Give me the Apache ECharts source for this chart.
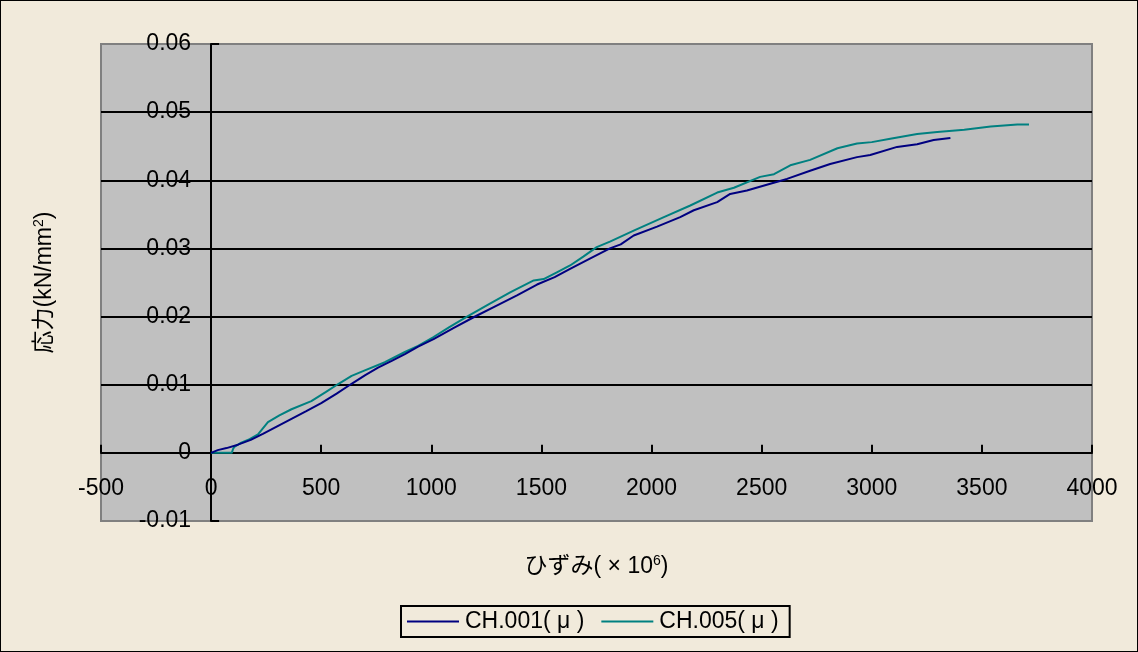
<!DOCTYPE html>
<html>
<head>
<meta charset="utf-8">
<script src="https://cdn.jsdelivr.net/npm/echarts@6/dist/echarts.min.js"></script>
<style>
  html, body { margin: 0; padding: 0; background: #F1EADB; }
  #chart { width: 1138px; height: 652px; box-sizing: border-box; border: 1px solid #000; }
</style>
</head>
<body>
<div id="chart"></div>
<script>
// Strain (×10^6) and stress (kN/mm²) readings for each channel
const ch001Strain = [0, 30, 70, 122, 180, 235, 300, 365, 430, 500, 570, 636, 700, 758, 820, 880, 940, 1010, 1100, 1192, 1290, 1389, 1480, 1560, 1630, 1720, 1811, 1860, 1919, 2025, 2130, 2192, 2298, 2357, 2433, 2539, 2615, 2720, 2811, 2933, 2993, 3115, 3206, 3281, 3357];
const ch001Stress = [0, 0.0004, 0.0007, 0.0012, 0.0019, 0.0028, 0.0039, 0.005, 0.0061, 0.0073, 0.0087, 0.0101, 0.0114, 0.0125, 0.0135, 0.0145, 0.0156, 0.0167, 0.0183, 0.0199, 0.0215, 0.0231, 0.0247, 0.0258, 0.027, 0.0285, 0.03, 0.0306, 0.0319, 0.0332, 0.0346, 0.0356, 0.0368, 0.038, 0.0385, 0.0395, 0.0402, 0.0414, 0.0424, 0.0434, 0.0437, 0.0449, 0.0453, 0.0459, 0.0462];

const ch005Strain = [0, 40, 94, 100, 107, 137, 175, 213, 258, 310, 365, 455, 520, 577, 638, 698, 789, 880, 940, 1010, 1080, 1162, 1266, 1360, 1465, 1510, 1570, 1630, 1690, 1751, 1811, 1919, 2056, 2176, 2298, 2374, 2493, 2556, 2630, 2720, 2844, 2933, 3000, 3084, 3206, 3297, 3420, 3540, 3661, 3714];
const ch005Stress = [0, 0, 0, 0.0006, 0.0009, 0.0015, 0.002, 0.0027, 0.0045, 0.0055, 0.0064, 0.0076, 0.0089, 0.0101, 0.0113, 0.0121, 0.0133, 0.0148, 0.0157, 0.017, 0.0184, 0.02, 0.0219, 0.0236, 0.0253, 0.0255, 0.0265, 0.0275, 0.0288, 0.0302, 0.031, 0.0326, 0.0346, 0.0363, 0.0382, 0.0389, 0.0405, 0.0409, 0.0422, 0.043, 0.0447, 0.0454, 0.0456, 0.0461, 0.0468, 0.0471, 0.0474, 0.0479, 0.0482, 0.0482];

const seriesNames = ['CH.001( μ )', 'CH.005( μ )'];
const xTicks = { min: -500, max: 4000, step: 500 };
const yTicks = { min: -0.01, max: 0.06, step: 0.01 };

const pairs = (xs, ys) => xs.map((x, i) => [x, ys[i]]);

const FONT = 'Liberation Sans, Arial, "Noto Sans CJK JP", sans-serif';

// Plot rectangle (px) – both axes cross at the origin inside it
const GRID = { left: 100, top: 43, width: 991, height: 477 };
const xZeroOffset = -GRID.width * (0 - xTicks.min) / (xTicks.max - xTicks.min);
const yZeroOffset = -GRID.height * (0 - yTicks.min) / (yTicks.max - yTicks.min);

const supStyle = { sup: { fontSize: 14, verticalAlign: 'top', padding: [0, 0, 11, 0] } };

const chart = echarts.init(document.getElementById('chart'), null, { renderer: 'canvas' });
chart.setOption({
  backgroundColor: '#F1EADB',
  animation: false,
  textStyle: { fontFamily: FONT },
  grid: {
    left: GRID.left, top: GRID.top, width: GRID.width, height: GRID.height,
    containLabel: false,
    outerBoundsMode: 'none',
    show: true,
    backgroundColor: '#C0C0C0',
    borderColor: '#808080',
    borderWidth: 2
  },
  legend: {
    data: seriesNames,
    left: 400,
    top: 605,
    padding: [4, 11, 4, 6],
    itemGap: 17,
    itemWidth: 52,
    itemHeight: 2,
    icon: 'rect',
    borderColor: '#000',
    borderWidth: 2,
    textStyle: { fontSize: 23, color: '#000', fontFamily: FONT, padding: [0, 0, 0, 1] }
  },
  xAxis: {
    type: 'value',
    min: xTicks.min,
    max: xTicks.max,
    interval: xTicks.step,
    offset: yZeroOffset,
    name: 'ひずみ( × 10{sup|6})',
    nameLocation: 'middle',
    nameGap: 101,
    nameTextStyle: { fontSize: 23, color: '#000', fontFamily: FONT, rich: supStyle },
    axisLine: { show: true, onZero: false, lineStyle: { color: '#000', width: 2 } },
    axisTick: { show: true, inside: true, length: 8, lineStyle: { color: '#000', width: 2 } },
    axisLabel: { fontSize: 23, color: '#000', margin: 24, fontFamily: FONT, formatter: v => String(v) },
    splitLine: { show: false }
  },
  yAxis: {
    type: 'value',
    min: yTicks.min,
    max: yTicks.max,
    interval: yTicks.step,
    offset: xZeroOffset,
    name: '応力(kN/mm{sup|2})',
    nameLocation: 'middle',
    nameGap: 154,
    nameRotate: 90,
    nameTextStyle: { fontSize: 23, color: '#000', fontFamily: FONT, rich: supStyle },
    axisLine: { show: true, onZero: false, lineStyle: { color: '#000', width: 2 } },
    axisTick: { show: true, inside: true, length: 8, lineStyle: { color: '#000', width: 2 } },
    axisLabel: {
      fontSize: 23, color: '#000', margin: 20, fontFamily: FONT,
      formatter: v => (Math.abs(v) < 1e-9 ? '0' : v.toFixed(2))
    },
    splitLine: {
      show: true,
      lineStyle: { color: ['#808080', '#000', '#000', '#000', '#000', '#000', '#000', '#808080'], width: 2 }
    }
  },
  series: [
    {
      name: seriesNames[0],
      type: 'line',
      data: pairs(ch001Strain, ch001Stress),
      symbol: 'none',
      lineStyle: { color: '#000080', width: 2 },
      itemStyle: { color: '#000080' },
      z: 3
    },
    {
      name: seriesNames[1],
      type: 'line',
      data: pairs(ch005Strain, ch005Stress),
      symbol: 'none',
      lineStyle: { color: '#008080', width: 2 },
      itemStyle: { color: '#008080' },
      z: 2
    }
  ]
});
</script>
</body>
</html>
